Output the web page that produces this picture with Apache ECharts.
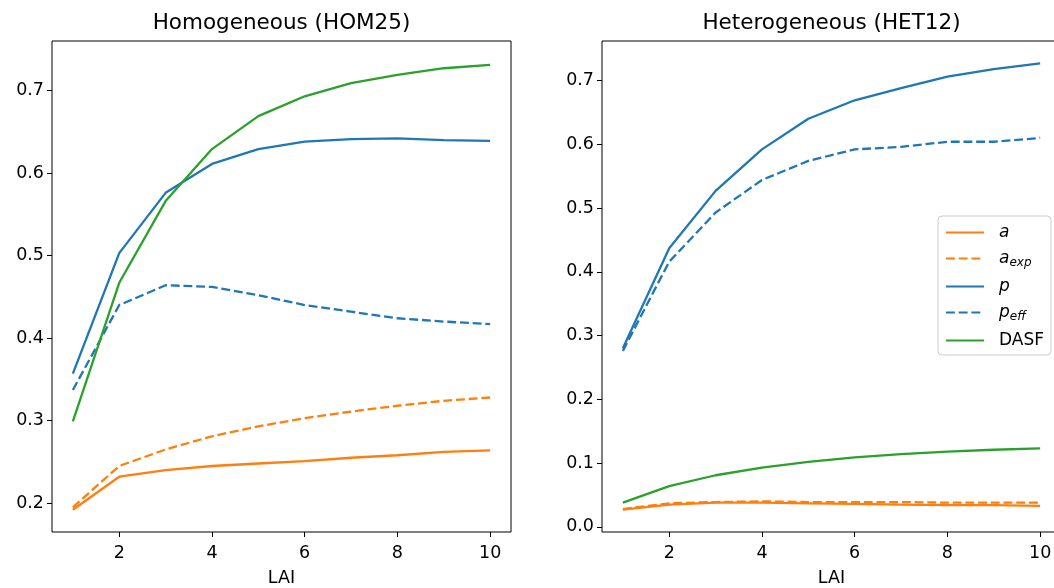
<!DOCTYPE html>
<html>
<head>
<meta charset="utf-8">
<script src="https://cdn.jsdelivr.net/npm/echarts@6/dist/echarts.min.js"></script>
<style>
  html, body { margin: 0; padding: 0; background: #fff; }
  #chart { width: 1054px; height: 588px; }
</style>
</head>
<body>
<div id="chart"></div>
<script>
  // LAI values on the x axis
  var lai = [1, 2, 3, 4, 5, 6, 7, 8, 9, 10];
  var xTicks = [2, 4, 6, 8, 10];

  // Homogeneous (HOM25)
  var homA    = [0.192, 0.232, 0.240, 0.245, 0.248, 0.251, 0.255, 0.258, 0.262, 0.264];
  var homAexp = [0.195, 0.245, 0.265, 0.281, 0.293, 0.303, 0.311, 0.318, 0.324, 0.328];
  var homP    = [0.357, 0.503, 0.576, 0.611, 0.629, 0.638, 0.641, 0.642, 0.640, 0.639];
  var homPeff = [0.337, 0.440, 0.464, 0.462, 0.452, 0.440, 0.432, 0.424, 0.420, 0.417];
  var homDasf = [0.299, 0.467, 0.566, 0.629, 0.669, 0.693, 0.709, 0.719, 0.727, 0.731];
  var homTicks = [0.2, 0.3, 0.4, 0.5, 0.6, 0.7];

  // Heterogeneous (HET12)
  var hetA    = [0.027, 0.035, 0.038, 0.038, 0.037, 0.036, 0.035, 0.034, 0.034, 0.033];
  var hetAexp = [0.028, 0.037, 0.039, 0.040, 0.039, 0.039, 0.039, 0.038, 0.038, 0.038];
  var hetP    = [0.280, 0.437, 0.527, 0.592, 0.640, 0.669, 0.688, 0.706, 0.718, 0.727];
  var hetPeff = [0.276, 0.416, 0.493, 0.544, 0.574, 0.592, 0.596, 0.604, 0.604, 0.610];
  var hetDasf = [0.038, 0.064, 0.081, 0.093, 0.102, 0.109, 0.114, 0.118, 0.121, 0.123];
  var hetTicks = [0.0, 0.1, 0.2, 0.3, 0.4, 0.5, 0.6, 0.7];

  var FONT = 'DejaVu Sans';
  var FS = 17.5;
  var ORANGE = '#ff7f0e', BLUE = '#1f77b4', GREEN = '#2ca02c';
  var DASH = [8.9, 3.8];

  function pairs(ys) {
    return lai.map(function (x, i) { return [x, ys[i]]; });
  }

  function mkX(idx) {
    return {
      type: 'value', gridIndex: idx, min: 0.55, max: 10.45,
      splitLine: { show: false },
      axisLine: { show: false, onZero: false },
      axisTick: { show: true, length: 5, customValues: xTicks, lineStyle: { color: '#000', width: 1 } },
      axisLabel: { customValues: xTicks, fontSize: FS, color: '#000', fontFamily: FONT, margin: 12 },
      name: 'LAI', nameLocation: 'middle', nameGap: 37,
      nameTextStyle: { fontSize: FS, color: '#000', fontFamily: FONT }
    };
  }

  function mkY(idx, min, max, ticks) {
    return {
      type: 'value', gridIndex: idx, min: min, max: max,
      splitLine: { show: false },
      axisLine: { show: false, onZero: false },
      axisTick: { show: true, length: 5, customValues: ticks, lineStyle: { color: '#000', width: 1 } },
      axisLabel: {
        customValues: ticks, fontSize: FS, color: '#000', fontFamily: FONT, margin: 8,
        formatter: function (v) { return v.toFixed(1); }
      }
    };
  }

  function line(name, idx, ys, color, dashed) {
    return {
      name: name, type: 'line', xAxisIndex: idx, yAxisIndex: idx,
      data: pairs(ys), symbol: 'none', silent: true,
      lineStyle: { color: color, width: 2.3, type: dashed ? DASH : 'solid' },
      itemStyle: { color: color }
    };
  }

  var legendText = {
    'a': '{i|a}',
    'a_exp': '{i|a}{s|exp}',
    'p': '{i|p}',
    'p_eff': '{i|p}{s|eff}',
    'DASF': '{r|DASF}'
  };

  var chart = echarts.init(document.getElementById('chart'), null, { renderer: 'canvas' });

  var gridBase = {
    top: 41, width: 459, height: 491, show: true, outerBoundsMode: 'none',
    borderColor: '#000', borderWidth: 1, backgroundColor: 'transparent'
  };

  var option = {
    animation: false,
    backgroundColor: '#fff',
    title: [
      {
        text: 'Homogeneous (HOM25)', left: 281.5, top: 12, padding: 0, textAlign: 'center',
        textStyle: { fontSize: 21.5, fontWeight: 'normal', color: '#000', fontFamily: FONT }
      },
      {
        text: 'Heterogeneous (HET12)', left: 831.5, top: 12, padding: 0, textAlign: 'center',
        textStyle: { fontSize: 21.5, fontWeight: 'normal', color: '#000', fontFamily: FONT }
      }
    ],
    grid: [
      Object.assign({ left: 52 }, gridBase),
      Object.assign({ left: 602 }, gridBase)
    ],
    xAxis: [mkX(0), mkX(1)],
    yAxis: [mkY(0, 0.165, 0.760, homTicks), mkY(1, -0.008, 0.762, hetTicks)],
    legend: {
      orient: 'vertical', left: 938, top: 216,
      data: ['a', 'a_exp', 'p', 'p_eff', 'DASF'],
      itemWidth: 38, itemHeight: 14, itemGap: 9,
      padding: [8, 7, 6, 7],
      borderColor: '#cccccc', borderWidth: 1, borderRadius: 4,
      backgroundColor: 'rgba(255,255,255,0.8)',
      selectedMode: false,
      itemStyle: { color: 'rgba(0,0,0,0)', borderColor: 'rgba(0,0,0,0)', borderWidth: 0 },
      formatter: function (n) { return legendText[n]; },
      textStyle: {
        color: '#000', fontFamily: FONT, fontSize: 17, padding: [0, 0, 0, 10],
        rich: {
          i: { fontStyle: 'italic', fontSize: 17, lineHeight: 21, fontFamily: FONT, color: '#000' },
          s: { fontStyle: 'italic', fontSize: 12, lineHeight: 12, verticalAlign: 'bottom', fontFamily: FONT, color: '#000' },
          r: { fontSize: 17, lineHeight: 21, fontFamily: FONT, color: '#000' }
        }
      }
    },
    series: [
      line('a', 0, homA, ORANGE, false),
      line('a_exp', 0, homAexp, ORANGE, true),
      line('p', 0, homP, BLUE, false),
      line('p_eff', 0, homPeff, BLUE, true),
      line('DASF', 0, homDasf, GREEN, false),
      line('a', 1, hetA, ORANGE, false),
      line('a_exp', 1, hetAexp, ORANGE, true),
      line('p', 1, hetP, BLUE, false),
      line('p_eff', 1, hetPeff, BLUE, true),
      line('DASF', 1, hetDasf, GREEN, false)
    ]
  };

  chart.setOption(option);
</script>
</body>
</html>
